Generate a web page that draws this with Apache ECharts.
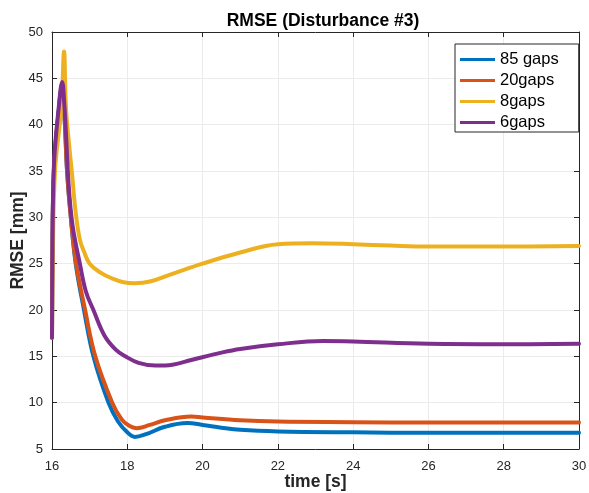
<!DOCTYPE html>
<html>
<head>
<meta charset="utf-8">
<script src="https://cdn.jsdelivr.net/npm/echarts@6/dist/echarts.min.js"></script>
<style>html,body{margin:0;padding:0;background:#fff}#c{width:589px;height:493px}</style>
</head>
<body>
<div id="c"></div>
<script>
const seriesNames = ['85 gaps', '20gaps', '8gaps', '6gaps'];
const xTicks = [16, 18, 20, 22, 24, 26, 28, 30];
const yTicks = [5, 10, 15, 20, 25, 30, 35, 40, 45, 50];

const t85 = [16, 16.01, 16.05, 16.18, 16.26, 16.33, 16.4, 16.5, 16.63, 16.85, 17.1, 17.5, 17.75, 18.0, 18.2, 18.5, 19.0, 19.6, 20, 20.5, 21, 22, 24, 26, 28, 30];
const v85 = [17, 25, 35, 41.5, 44, 41, 35, 30, 25, 20, 15, 10, 8, 6.8, 6.3, 6.6, 7.4, 7.8, 7.6, 7.3, 7.07, 6.9, 6.8, 6.75, 6.75, 6.75];

const t20 = [16, 16.01, 16.05, 16.18, 16.26, 16.33, 16.4, 16.5, 16.64, 16.88, 17.15, 17.6, 17.85, 18.05, 18.25, 18.6, 19.0, 19.7, 20, 21, 22, 24, 26, 28, 30];
const v20 = [17, 25, 35, 41.5, 44, 41, 35, 30, 25, 20, 15, 10, 8.2, 7.5, 7.25, 7.6, 8.1, 8.5, 8.4, 8.1, 7.96, 7.9, 7.85, 7.85, 7.85];

const t8 = [16, 16.02, 16.08, 16.25, 16.32, 16.37, 16.45, 16.53, 16.63, 16.74, 16.85, 17.0, 17.3, 17.6, 17.9, 18.2, 18.6, 19.2, 20, 21, 22, 22.9, 24, 25, 26, 28, 30];
const v8 = [17, 25, 35, 41.9, 47.9, 41.9, 38, 34.8, 30.5, 27.6, 26.3, 25, 24, 23.4, 23.0, 22.9, 23.07, 23.9, 25, 26.2, 27.1, 27.2, 27.1, 26.95, 26.85, 26.85, 26.9];

const t6 = [16, 16.01, 16.05, 16.18, 16.27, 16.33, 16.38, 16.45, 16.55, 16.74, 16.9, 17.1, 17.4, 17.7, 17.95, 18.3, 18.75, 19.2, 19.7, 20.5, 21, 22, 23.2, 24, 26, 28, 30];
const v6 = [17, 25, 35.5, 41.9, 44.6, 42, 38.3, 33, 29, 25, 22, 20, 17.2, 15.7, 15, 14.3, 14.0, 14.1, 14.6, 15.4, 15.8, 16.3, 16.65, 16.6, 16.35, 16.3, 16.35];

const colors = ['#0072BD', '#D95319', '#EDB120', '#7E2F8E'];
const times = [t85, t20, t8, t6];
const vals = [v85, v20, v8, v6];

const font = '"Liberation Sans", Arial, Helvetica, sans-serif';
const chart = echarts.init(document.getElementById('c'), null, {renderer: 'canvas'});

const series = seriesNames.map((n, i) => ({
  name: n,
  type: 'line',
  data: times[i].map((t, k) => [t, vals[i][k]]),
  showSymbol: false,
  smooth: 0.4,
  lineStyle: {width: 4, color: colors[i], cap: 'round', join: 'round'},
  itemStyle: {color: colors[i]},
  z: 2 + i,
  animation: false
}));

const gridLine = {show: true, lineStyle: {color: '#ebebeb', width: 1}};
chart.setOption({
  animation: false,
  backgroundColor: '#ffffff',
  title: {
    text: 'RMSE (Disturbance #3)',
    left: 318, top: 7, textAlign: 'center',
    textStyle: {fontFamily: font, fontSize: 17.5, fontWeight: 'bold', color: '#000'}
  },
  grid: {left: 52, right: 10, top: 32, bottom: 44, show: false, containLabel: false, outerBoundsMode: 'none'},
  legend: {
    orient: 'vertical',
    left: 455, top: 44,
    padding: [7, 20, 1, 5],
    itemGap: 4,
    itemWidth: 35, itemHeight: 3,
    icon: 'rect',
    backgroundColor: '#fff',
    borderColor: '#262626', borderWidth: 1, borderRadius: 0,
    textStyle: {fontFamily: font, fontSize: 16.5, color: '#000', lineHeight: 17},
    data: seriesNames
  },
  xAxis: [{
    type: 'value', min: 16, max: 30, interval: 2,
    name: 'time [s]', nameLocation: 'middle', nameGap: 24, nameMoveOverlap: false,
    nameTextStyle: {fontFamily: font, fontSize: 17.5, fontWeight: 'bold', color: '#262626'},
    axisLine: {show: true, lineStyle: {color: '#262626'}},
    axisTick: {show: true, inside: true, length: 5, lineStyle: {color: '#262626'}},
    axisLabel: {fontFamily: font, fontSize: 13, color: '#262626', margin: 11,
      formatter: v => xTicks.includes(v) ? String(v) : ''},
    splitLine: gridLine
  }, {
    type: 'value', min: 16, max: 30, interval: 2, position: 'top',
    axisLine: {show: true, lineStyle: {color: '#262626'}},
    axisTick: {show: true, inside: true, length: 5, lineStyle: {color: '#262626'}},
    axisLabel: {show: false}, splitLine: {show: false}
  }],
  yAxis: [{
    type: 'value', min: 5, max: 50, interval: 5,
    name: 'RMSE [mm]', nameLocation: 'middle', nameGap: 25, nameMoveOverlap: false,
    nameTextStyle: {fontFamily: font, fontSize: 17.5, fontWeight: 'bold', color: '#262626'},
    axisLine: {show: true, lineStyle: {color: '#262626'}},
    axisTick: {show: true, inside: true, length: 5, lineStyle: {color: '#262626'}},
    axisLabel: {fontFamily: font, fontSize: 13, color: '#262626', margin: 9,
      formatter: v => yTicks.includes(v) ? String(v) : ''},
    splitLine: gridLine
  }, {
    type: 'value', min: 5, max: 50, interval: 5, position: 'right',
    axisLine: {show: true, lineStyle: {color: '#262626'}},
    axisTick: {show: true, inside: true, length: 5, lineStyle: {color: '#262626'}},
    axisLabel: {show: false}, splitLine: {show: false}
  }],
  series: series
});
</script>
</body>
</html>
